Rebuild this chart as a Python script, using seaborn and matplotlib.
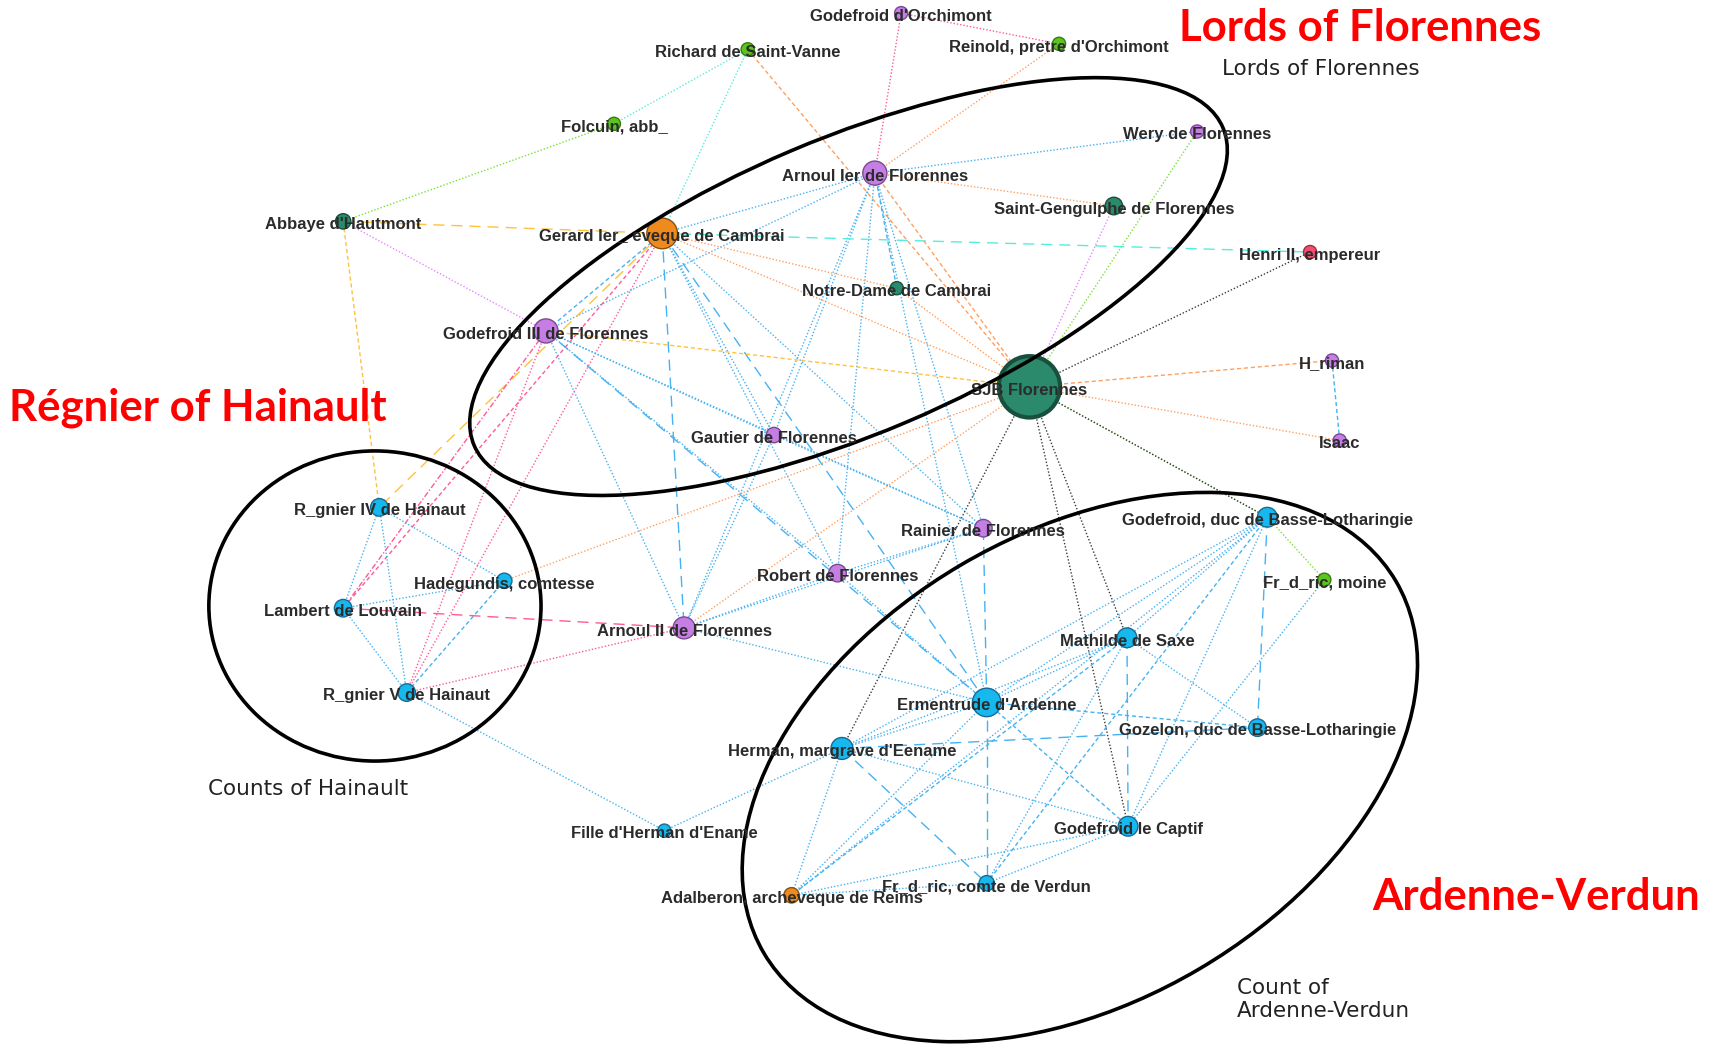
import matplotlib

matplotlib.use("Agg")
import matplotlib.pyplot as plt
from matplotlib.patches import Ellipse

import numpy as np
import pandas as pd
import seaborn as sns

sns.set_theme(style="white")

# --- Nodes (positions in picture pixels of the 1568x960 layout) ---
node_keys = ["orch", "rein", "rich", "folc", "wery", "arn1", "geng", "haut", "gera",
             "henr", "notr", "god3", "heri", "sjb", "isaa", "gaut", "reg4", "rain",
             "gduc", "frmo", "hade", "robe", "lamb", "arn2", "math", "reg5", "erme",
             "gozo", "herm", "fill", "capt", "frco", "adal"]
node_labels = ["Godefroid d'Orchimont", "Reinold, pretre d'Orchimont", "Richard de Saint-Vanne",
               "Folcuin, abb_", "Wery de Florennes", "Arnoul Ier de Florennes",
               "Saint-Gengulphe de Florennes", "Abbaye d'Hautmont", "Gerard Ier_ eveque de Cambrai",
               "Henri II, empereur", "Notre-Dame de Cambrai", "Godefroid III de Florennes",
               "H_riman", "SJB Florennes", "Isaac", "Gautier de Florennes",
               "R_gnier IV de Hainaut", "Rainier de Florennes",
               "Godefroid, duc de Basse-Lotharingie", "Fr_d_ric, moine", "Hadegundis, comtesse",
               "Robert de Florennes", "Lambert de Louvain", "Arnoul II de Florennes",
               "Mathilde de Saxe", "R_gnier V de Hainaut", "Ermentrude d'Ardenne",
               "Gozelon, duc de Basse-Lotharingie", "Herman, margrave d'Eename",
               "Fille d'Herman d'Ename", "Godefroid le Captif", "Fr_d_ric, comte de Verdun",
               "Adalberon, archeveque de Reims"]
node_x = [822, 966, 682, 560, 1092, 798, 1016, 313, 604, 1195, 818, 498, 1215, 939, 1222,
          706, 346, 897, 1156, 1208, 460, 764, 313, 624, 1028, 371, 900, 1147, 768, 606,
          1029, 900, 722]
node_y = [12, 40, 45, 113, 120, 158, 188, 202, 213, 230, 263, 302, 329, 353, 402, 397,
          463, 482, 472, 529, 530, 523, 555, 573, 582, 632, 641, 664, 683, 758, 754, 806, 817]
node_group = ["purple", "green", "green", "green", "purple", "purple", "teal", "teal",
              "orange", "red", "teal", "purple", "purple", "teal", "purple", "purple",
              "cyan", "purple", "cyan", "green", "cyan", "purple", "cyan", "purple", "cyan",
              "cyan", "cyan", "cyan", "cyan", "cyan", "cyan", "cyan", "orange"]
node_radius = [6, 6, 6, 6, 6, 11, 8, 7, 14, 6, 6, 11, 6, 28, 6, 7, 8, 8, 9, 6, 7, 8, 8,
               10, 9, 8, 13, 8, 10, 6, 9, 7, 7]

# --- Edges ---
edge_src = ["orch", "orch", "rein", "rich", "rich", "rich", "folc", "haut", "haut", "haut",
            "arn1", "arn1", "arn1", "arn1", "arn1", "arn1", "arn1", "arn1", "arn1", "arn1", "arn1",
            "gera", "gera", "gera", "gera", "gera", "gera", "gera", "gera", "gera", "gera", "gera", "gera",
            "god3", "god3", "god3", "god3", "god3", "god3", "god3", "god3",
            "sjb", "sjb", "sjb", "sjb", "sjb", "sjb", "sjb", "sjb", "sjb", "sjb", "sjb", "sjb", "sjb",
            "heri", "gduc", "gduc", "gduc", "gduc", "gduc", "gduc", "gduc", "gduc", "frmo",
            "math", "math", "math", "math", "math", "math",
            "erme", "erme", "erme", "erme", "erme", "erme", "erme", "erme",
            "herm", "herm", "herm", "herm", "herm", "frco", "frco", "adal",
            "reg5", "reg5", "reg5", "reg5", "reg5", "lamb", "lamb", "lamb", "reg4",
            "arn2", "arn2", "arn2", "gaut", "rain"]
edge_dst = ["rein", "arn1", "arn1", "folc", "gera", "sjb", "haut", "gera", "god3", "reg4",
            "wery", "gera", "god3", "geng", "sjb", "gaut", "robe", "arn2", "erme", "rain", "notr",
            "henr", "sjb", "notr", "god3", "lamb", "reg5", "reg4", "gaut", "erme", "robe", "arn2", "rain",
            "sjb", "gaut", "erme", "rain", "arn2", "reg5", "lamb", "robe",
            "geng", "wery", "henr", "heri", "isaa", "gduc", "gduc", "math", "capt", "herm", "notr", "hade", "arn2",
            "isaa", "frmo", "math", "erme", "herm", "gozo", "capt", "frco", "adal", "capt",
            "erme", "capt", "gozo", "herm", "frco", "adal",
            "herm", "gozo", "frco", "capt", "adal", "rain", "arn2", "robe",
            "gozo", "fill", "adal", "frco", "capt", "capt", "adal", "capt",
            "fill", "lamb", "reg4", "hade", "arn2", "reg4", "hade", "arn2", "hade",
            "robe", "rain", "gaut", "rain", "robe"]
edge_color = ["pink", "pink", "orange", "cyan", "cyan", "orange", "green", "gold", "violet", "gold",
              "blue", "blue", "blue", "orange", "orange", "blue", "blue", "blue", "blue", "blue", "blue",
              "cyan", "orange", "orange", "blue", "pink", "pink", "gold", "blue", "blue", "blue", "blue", "blue",
              "gold", "blue", "blue", "blue", "blue", "pink", "pink", "blue",
              "violet", "green", "black", "orange", "orange", "green", "black", "black", "black", "black",
              "orange", "orange", "orange",
              "blue", "green", "blue", "blue", "blue", "blue", "blue", "blue", "blue", "blue",
              "blue", "blue", "blue", "blue", "blue", "blue",
              "blue", "blue", "blue", "blue", "blue", "blue", "blue", "blue",
              "blue", "blue", "blue", "blue", "blue", "blue", "blue", "blue",
              "blue", "blue", "blue", "blue", "pink", "blue", "blue", "pink", "blue",
              "blue", "blue", "blue", "blue", "blue"]
edge_style = ["dot", "dot", "dot", "dot", "dot", "dash", "dot", "ldash", "dot", "dash",
              "dot", "dot", "dot", "dot", "dash", "dot", "dot", "dot", "dot", "dot", "dash",
              "ldash", "dot", "dot", "dash", "dash", "dot", "ldash", "dot", "ldash", "dot", "ldash", "dot",
              "dash", "dot", "ldash", "dot", "dot", "dot", "dashdot", "dot",
              "dot", "dot", "dot", "dash", "dot", "dot", "dot", "dot", "dot", "dot", "dot", "dot", "dot",
              "dash", "dot", "dot", "dot", "dot", "ldash", "dot", "dash", "dot", "dot",
              "dot", "ldash", "dot", "dot", "dot", "dash",
              "dot", "dash", "ldash", "dash", "dot", "ldash", "dot", "dot",
              "ldash", "dot", "dot", "ldash", "dot", "dot", "dot", "dot",
              "dot", "dot", "dot", "dash", "dot", "dot", "dot", "ldash", "dot",
              "dot", "dot", "dot", "dot", "dot"]

node_palette = {"purple": "#c47ee4", "green": "#5cc41e", "teal": "#2b8a6b",
                "orange": "#ee8a1e", "red": "#f0506e", "cyan": "#16b8ee"}
node_edge = {"purple": "#7a4a90", "green": "#3a7a14", "teal": "#184f3d",
             "orange": "#8a5010", "red": "#9a3040", "cyan": "#1a6a90"}
line_palette = {"blue": "#46b2f2", "orange": "#ffa061", "pink": "#ff5a9a", "green": "#7de03a",
                "cyan": "#55eedc", "violet": "#e487ff", "gold": "#ffc23c", "black": "#3a3a3a"}
line_styles = {"dot": (0, (1, 1.4)), "dash": (0, (3, 2)), "ldash": (0, (8, 5)),
               "dashdot": (0, (4, 1.5, 1, 1.5))}

# --- Group annotations ---
group_titles = ["Lords of Florennes", "Régnier of Hainault", "Ardenne-Verdun"]
group_title_xy = [(1075, 26), (8, 372), (1252, 819)]
group_notes = ["Lords of Florennes", "Counts of Hainault", "Count of\nArdenne-Verdun"]
group_note_xy = [(1115, 63), (190, 720), (1128, 912)]

nodes = pd.DataFrame({"key": node_keys, "label": node_labels, "x": node_x, "y": node_y,
                      "group": node_group, "r": node_radius})
pos = {k: (x, y) for k, x, y in zip(node_keys, node_x, node_y)}

fig = plt.figure(figsize=(17.19, 10.52), dpi=100)
ax = fig.add_axes([0, 0, 1, 1])

# Edges underneath everything
for s, d, c, st in zip(edge_src, edge_dst, edge_color, edge_style):
    (x0, y0), (x1, y1) = pos[s], pos[d]
    ax.plot([x0, x1], [y0, y1], color=line_palette[c], linestyle=line_styles[st],
            linewidth=1.0, zorder=1)

# Nodes: radius in layout px -> marker area in points^2
px_to_pt = (1719 / 1568) * 72 / 100
sizes = (2 * nodes["r"].to_numpy() * px_to_pt) ** 2
edgecols = [node_edge[g] for g in nodes["group"]]
lws = np.where(nodes["r"] > 20, 3.0, 1.0)
sns.scatterplot(data=nodes, x="x", y="y", hue="group", palette=node_palette, s=sizes,
                edgecolor=edgecols, linewidth=lws, legend=False, ax=ax, zorder=3)
ax.set_xlim(0, 1568)
ax.set_ylim(960, 0)
ax.axis("off")

# Ellipses grouping the families
for (cx, cy), w, h, ang in [((774, 261.5), 742, 269, -23),
                            ((342, 553), 303, 283, 0),
                            ((985, 700), 669, 428, -30.5)]:
    ax.add_patch(Ellipse((cx, cy), w, h, angle=ang, fill=False, edgecolor="black",
                         linewidth=2.6, zorder=4))

for lab, x, y in zip(node_labels, node_x, node_y):
    ax.text(x, y + 3, lab, ha="center", va="center", fontsize=12, fontweight="bold",
            family=["Liberation Sans", "DejaVu Sans"], color="#2b2b2b", zorder=5)

for t, (x, y) in zip(group_titles, group_title_xy):
    ax.text(x, y, t, ha="left", va="center", fontsize=31.5, fontweight="bold",
            family=["Lato", "DejaVu Sans"], color="#ff0000", zorder=6)

for t, (x, y) in zip(group_notes, group_note_xy):
    ax.text(x, y, t, ha="left", va="center", fontsize=15.5, family=["DejaVu Sans"],
            color="#222222", linespacing=1.15, zorder=6)

plt.savefig("out.png", dpi=100)
plt.close(fig)
